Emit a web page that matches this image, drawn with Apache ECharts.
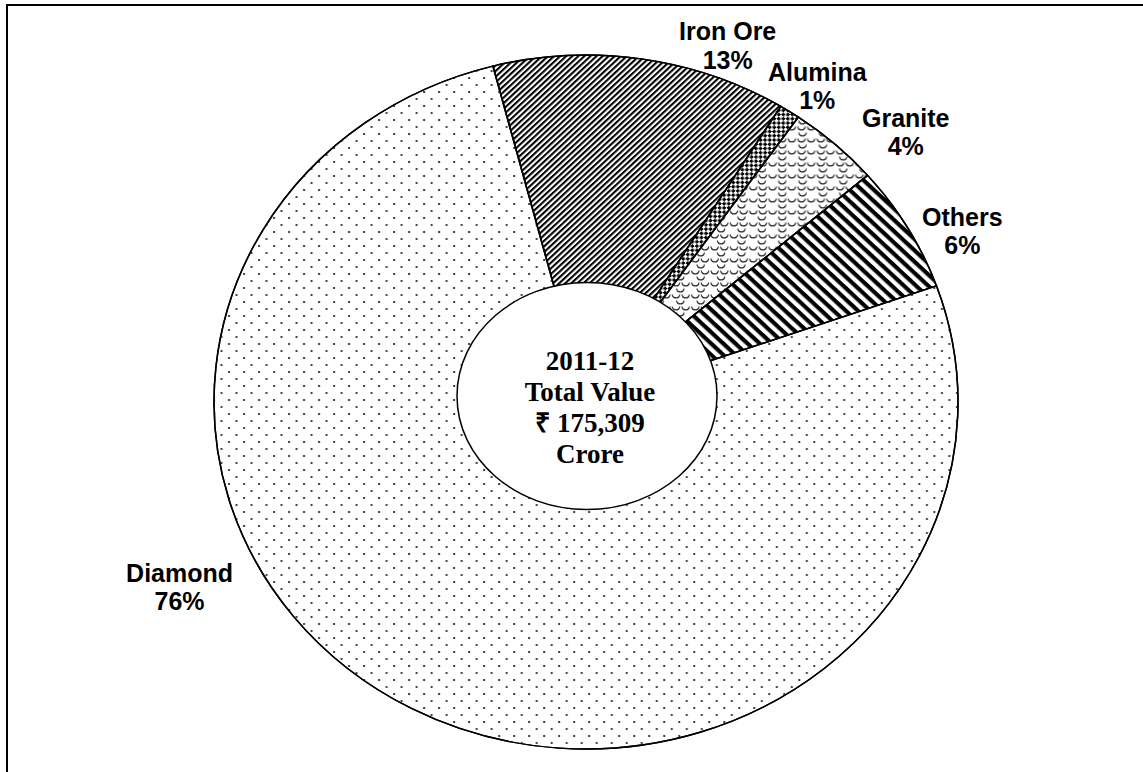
<!DOCTYPE html>
<html>
<head>
<meta charset="utf-8">
<script src="https://cdn.jsdelivr.net/npm/echarts@6/dist/echarts.min.js"></script>
<style>
  html, body { margin: 0; padding: 0; background: #fff; }
  #wrap { position: relative; width: 1143px; height: 772px; overflow: hidden; }
  #pie { position: absolute; left: 0; top: 0; width: 1143px; height: 772px;
         transform-origin: 586px 402px; transform: scaleX(1.072); }
  #over { position: absolute; left: 0; top: 0; width: 1143px; height: 772px; }
</style>
</head>
<body>
<div id="wrap"><div id="pie"></div><div id="over"></div></div>
<script>
// ---- data ----
const categories = ['Iron Ore', 'Alumina', 'Granite', 'Others', 'Diamond'];
const shares = [12.8, 0.9, 4.0, 5.9, 76.4];          // % of total value
const centerLines = ['2011-12', 'Total Value', '₹ 175,309', 'Crore'];

// ---- styles (kept apart from the data) ----
const decals = {
  'Iron Ore': { symbol: 'rect', dashArrayX: [1, 0], dashArrayY: [2, 1.5], rotation: -Math.PI / 4, color: '#000' },
  'Alumina':  { symbol: 'rect', symbolSize: 1, dashArrayX: [[3, 3], [0, 3, 3, 0]], dashArrayY: [3, 0], rotation: Math.PI / 4, color: '#000' },
  'Granite':  { symbol: 'path://M0,0 C0,7 10,7 10,0 L8.6,0 C8.6,4.6 1.4,4.6 1.4,0 Z', symbolSize: 1, dashArrayX: [[8, 1], [0, 4.5, 8, 5.5]], dashArrayY: [5, 1], color: '#333' },
  'Others':   { symbol: 'rect', dashArrayX: [1, 0], dashArrayY: [3.5, 3.5], rotation: Math.PI / 4, color: '#000' },
  'Diamond':  { symbol: 'rect', symbolSize: 0.9, dashArrayX: [[2, 12], [0, 7, 2, 5]], dashArrayY: [2, 5], color: '#3a3a3a' }
};
// [label line length, second segment length, distance to line]
const labelTweaks = {
  'Iron Ore': [13.5, 39.5, 0],
  'Alumina':  [30.6, 0, -24.8],
  'Granite':  [16.4, 32.7, 0],
  'Others':   [-6.6, 41.7, 0],
  'Diamond':  [-137.5, 254.7, 0]
};
const PIE_CENTER = [586, 402];
const PIE_R = 347;
const START = 104.5;

const pieData = categories.map((name, i) => ({
  name, value: shares[i],
  itemStyle: { color: '#fff', decal: Object.assign({ backgroundColor: '#fff' }, decals[name]) }
}));

const pieChart = echarts.init(document.getElementById('pie'), null, { renderer: 'svg' });
pieChart.setOption({
  animation: false,
  backgroundColor: '#fff',
  series: [{
    type: 'pie', silent: true,
    center: PIE_CENTER, radius: [0, PIE_R],
    startAngle: START, clockwise: true,
    label: { show: false }, labelLine: { show: false },
    itemStyle: { borderColor: '#000', borderWidth: 1.4 },
    data: pieData
  }]
});

const labelData = categories.map((name, i) => ({
  name, value: shares[i],
  label: { distanceToLabelLine: labelTweaks[name][2] },
  labelLine: { show: false, length: labelTweaks[name][0], length2: labelTweaks[name][1] }
}));

const over = echarts.init(document.getElementById('over'), null, { renderer: 'svg' });
over.setOption({
  animation: false,
  backgroundColor: 'transparent',
  graphic: [
    { type: 'rect', shape: { x: 7, y: 5, width: 1160, height: 800 },
      style: { fill: 'none', stroke: '#000', lineWidth: 2 }, silent: true },
    { type: 'ellipse', shape: { cx: 587, cy: 396, rx: 130, ry: 113.5 },
      style: { fill: '#fff', stroke: '#000', lineWidth: 1.5 }, silent: true, z: 10 },
    { type: 'text', x: 590, y: 407, z: 11, silent: true,
      style: { text: centerLines.join('\n'), align: 'center', verticalAlign: 'middle',
               font: 'bold 27px "Liberation Serif", "Times New Roman", serif',
               lineHeight: 31, fill: '#000' } }
  ],
  series: [{
    type: 'pie', silent: true,
    center: PIE_CENTER, radius: [0, PIE_R],
    startAngle: START, clockwise: true,
    avoidLabelOverlap: false,
    percentPrecision: 0,
    itemStyle: { color: 'rgba(0,0,0,0)', borderWidth: 0 },
    labelLayout: { hideOverlap: false },
    label: {
      show: true, position: 'outside', distanceToLabelLine: 0,
      formatter: '{t|{b}}\n{t|{d}%}',
      rich: { t: { align: 'center', fontSize: 25, fontWeight: 'bold', color: '#000',
                   fontFamily: '"Liberation Sans", Arial, sans-serif', lineHeight: 28.5 } }
    },
    labelLine: { show: false },
    data: labelData
  }]
});
</script>
</body>
</html>
